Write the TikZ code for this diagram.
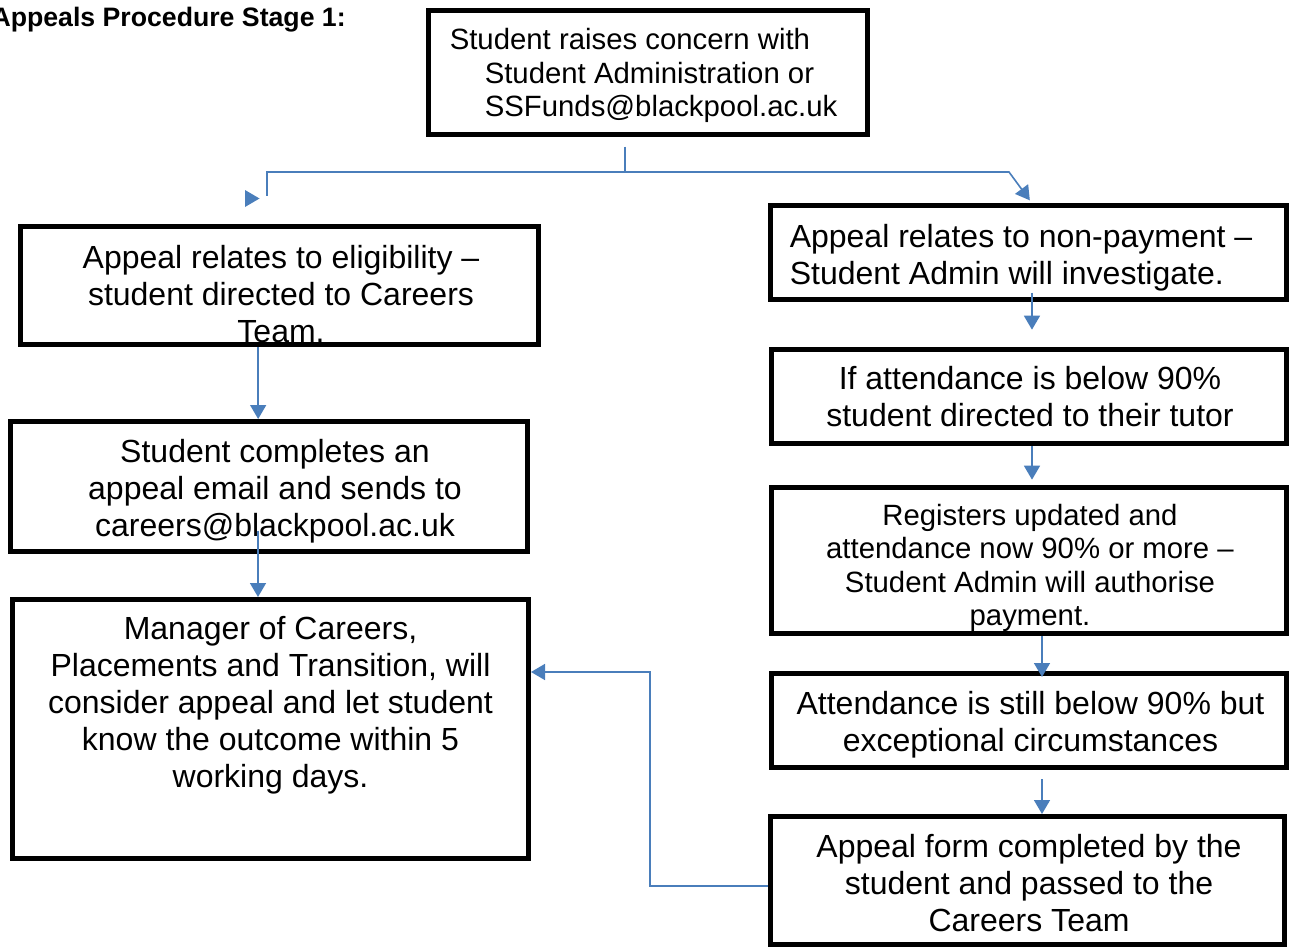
\documentclass[tikz,border=0pt]{standalone}
\usepackage{fontspec}
\setmainfont{Liberation Sans}
\usetikzlibrary{arrows.meta, positioning}
\definecolor{linkblue}{HTML}{4A7EBB}

\tikzset{
  box/.style={draw=black, line width=3.75pt, rectangle, inner sep=0pt},
  txt/.style={inner sep=0pt, align=center, font=\fontsize{24}{27.75}\selectfont},
  smalltxt/.style={inner sep=0pt, align=center, font=\fontsize{22}{25.2}\selectfont},
  conn/.style={draw=linkblue, line width=1.2pt},
  arr/.style={conn, -{Triangle[length=10.5pt, width=12pt]}}
}

\begin{document}
\begin{tikzpicture}[x=0.75pt, y=-0.75pt]
\useasboundingbox (0,0) rectangle (1292,949);
% boxes: name/centre x/centre y/width/height (px)
\foreach \name/\cx/\cy/\w/\h in {
    top/648/72.5/439/124,
    l1/279.5/285.5/518/118,
    l2/269/486.5/517/130,
    l3/270.5/729/516/259,
    r1/1028.5/252.5/516/94,
    r2/1029/396.5/515/94,
    r3/1029/560.5/515/146,
    r4/1029/720.5/515/94,
    r5/1027.5/880.5/514/128
} {
    \node[box, minimum width=\w*0.75pt, minimum height=\h*0.75pt] (\name) at (\cx,\cy) {};
}
\node[anchor=base east, inner sep=0pt, font=\fontsize{20}{24}\selectfont\bfseries] (title) at (346,27) {Appeals Procedure Stage 1:};

% texts
\node[smalltxt, align=left, anchor=west] (topT) at ([shift={(23.5,3)}]top.west) {Student raises concern with\\\hspace*{26.25pt}Student Administration or\\\hspace*{26.25pt}SSFunds@blackpool.ac.uk};
\node[txt] (l1T) at ([shift={(1.5,8.5)}]l1.center) {Appeal relates to eligibility --\\student directed to Careers\\Team.};
\node[txt] (l2T) at ([shift={(6,4.5)}]l2.center) {Student completes an\\appeal email and sends to\\careers@blackpool.ac.uk};
\node[txt] (l3T) at ([shift={(0,-24)}]l3.center) {Manager of Careers,\\Placements and Transition, will\\consider appeal and let student\\know the outcome within 5\\working days.};
\node[txt, align=left, anchor=west] (r1T) at ([shift={(21.5,5)}]r1.west) {Appeal relates to non-payment --\\Student Admin will investigate.};
\node[txt] (r2T) at ([shift={(1,0.5)}]r2.center) {If attendance is below 90\%\\student directed to their tutor};
\node[smalltxt] (r3T) at ([shift={(1,7.5)}]r3.center) {Registers updated and\\attendance now 90\% or more --\\Student Admin will authorise\\payment.};
\node[txt] (r4T) at ([shift={(1.5,4)}]r4.center) {Attendance is still below 90\% but\\exceptional circumstances};
\node[txt] (r5T) at ([shift={(1.5,2.5)}]r5.center) {Appeal form completed by the\\student and passed to the\\Careers Team};

% connectors
\coordinate (split) at (625,172);
\coordinate (bendL) at (267,172);
\coordinate (bendR) at (1009,172);
\coordinate (back) at (650,672);
\draw[conn] (split |- top.south) ++(0,9.5) -- (split);
\draw[conn] (split) -- (bendL) -- ++(0,24);
\fill[linkblue] (245,190) -- (259.5,198.5) -- (245,207) -- cycle;
\draw[arr] (split) -- (bendR) -- ([xshift=1pt,yshift=2pt]r1.north);
\draw[arr] ([xshift=-16pt]l1.south) -- ([xshift=-16pt]l1.south |- l2.north);
\draw[arr] ([xshift=-8.25pt,yshift=17.6pt]l2.south) -- ([xshift=-8.25pt]l2.south |- l3.north);
\draw[arr] ([xshift=2.6pt,yshift=7.1pt]r1.south) -- ([xshift=2.6pt,yshift=13pt]r1.south |- r2.north);
\draw[arr] ([xshift=2.25pt]r2.south) -- ([xshift=2.25pt,yshift=4pt]r2.south |- r3.north);
\draw[arr] ([xshift=9.75pt]r3.south) -- ([xshift=9.75pt,yshift=-4.5pt]r3.south |- r4.north);
\draw[arr] ([xshift=9.75pt,yshift=-7pt]r4.south) -- ([xshift=9.75pt]r4.south |- r5.north);
\draw[arr] ([yshift=-4pt]r5.west) -| (back) -- (back -| l3.east);
\end{tikzpicture}
\end{document}
